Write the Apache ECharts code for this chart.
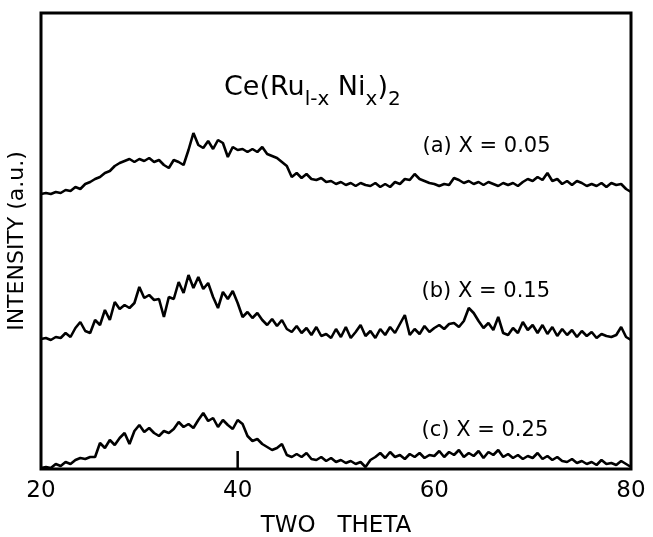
<!DOCTYPE html>
<html><head><meta charset="utf-8">
<script src="https://cdn.jsdelivr.net/npm/echarts@6/dist/echarts.min.js"></script>
<style>html,body{margin:0;padding:0;background:#fff}#c{width:653px;height:537px}</style>
</head><body><div id="c"></div>
<script>
// two-theta grid (degrees), 0.5 deg steps
var thetaStart = 20, thetaStep = 0.5;
// intensities (a.u., already stacked with vertical offsets as in the figure)
var seriesA = [275,276,275,277,276,279,278,282,280,285,287,290,292,296,298,303,306,308,310,307,310,308,311,307,309,304,301,309,307,304,319,336,324,321,328,320,329,326,312,322,319,320,317,320,317,322,315,313,311,307,303,292,296,291,295,290,289,291,287,288,285,287,284,286,283,286,284,283,286,282,285,282,287,285,290,289,295,290,288,286,285,283,285,284,291,289,286,288,285,287,284,287,285,283,286,284,286,283,287,290,288,292,289,296,288,290,285,288,284,288,286,283,285,283,286,282,286,284,285,280,277];
var seriesB = [130,131,129,132,131,136,132,141,147,138,136,149,144,159,149,167,160,164,161,166,182,171,174,169,170,152,172,170,187,176,194,181,192,180,186,172,161,177,170,178,166,152,157,151,156,149,144,150,143,149,140,137,143,136,141,134,142,133,135,131,140,132,142,131,137,144,133,138,131,140,134,142,136,145,154,134,140,135,143,137,141,144,140,145,146,142,148,161,156,148,141,146,139,152,136,134,141,136,147,139,144,136,144,135,142,133,140,134,139,132,138,133,137,131,135,133,132,134,142,132,129];
var seriesC = [1,2,1,5,3,7,5,9,11,10,12,12,26,21,29,24,31,36,25,38,44,37,41,36,33,38,36,40,47,42,45,41,49,56,48,51,42,49,44,40,49,45,33,28,30,25,22,19,21,25,14,12,15,12,16,10,9,12,8,11,7,9,6,8,5,7,2,9,12,16,11,17,12,14,10,15,12,16,11,14,13,18,12,17,14,19,12,16,13,18,11,17,14,19,12,15,11,14,10,13,11,16,10,13,9,12,8,7,10,6,8,5,7,4,9,5,6,4,8,5,2];
// reference marker line at 40 deg
var markerTheta = [40, 40];
var markerHeight = [0, 18];
var seriesLabels = ['(a) X = 0.05', '(b) X = 0.15', '(c) X = 0.25'];
var labelTheta = [58.8, 58.7, 58.7];
var labelLevel = [322, 177, 38];
var xTicks = [20, 40, 60, 80];

function pairs(arr){ return arr.map(function(v,i){ return [thetaStart + i*thetaStep, v]; }); }

var chart = echarts.init(document.getElementById('c'), null, {renderer:'canvas'});
var font = 'DejaVu Sans';
var lineStyle = {color:'#000', width:2.6};
var series = [
  {type:'line', data:pairs(seriesA), showSymbol:false, lineStyle:lineStyle, silent:true, animation:false},
  {type:'line', data:pairs(seriesB), showSymbol:false, lineStyle:lineStyle, silent:true, animation:false},
  {type:'line', data:pairs(seriesC), showSymbol:false, lineStyle:lineStyle, silent:true, animation:false},
  {type:'line', data:markerTheta.map(function(t,i){return [t, markerHeight[i]];}), showSymbol:false, lineStyle:{color:'#000', width:2.5}, silent:true, animation:false},
  {type:'scatter', symbolSize:0, silent:true, animation:false, itemStyle:{opacity:0},
   data: seriesLabels.map(function(s,i){ return {value:[labelTheta[i], labelLevel[i]], name:s}; }),
   label:{show:true, position:'right', distance:0, formatter:function(p){return p.name;}, color:'#000', opacity:1, fontSize:21, fontFamily:font}}
];
chart.setOption({
  animation:false,
  grid:{left:41, right:22, top:13, bottom:68, show:true, borderColor:'#000', borderWidth:3, backgroundColor:'#fff', containLabel:false, outerBoundsMode:'none'},
  xAxis:{type:'value', min:20, max:80, interval:20,
    axisLine:{show:false}, axisTick:{show:false}, splitLine:{show:false},
    axisLabel:{color:'#000', fontSize:23, fontFamily:font, margin:11},
    name:'TWO   THETA', nameLocation:'middle', nameGap:46,
    nameTextStyle:{color:'#000', fontSize:23, fontFamily:font}},
  yAxis:{type:'value', min:0, max:456,
    axisLine:{show:false}, axisTick:{show:false}, splitLine:{show:false}, axisLabel:{show:false},
    name:'INTENSITY (a.u.)', nameLocation:'middle', nameGap:13, nameRotate:90,
    nameTextStyle:{color:'#000', fontSize:22, fontFamily:font}},
  graphic:[{type:'text', left:224, top:74, style:{
    text:'{n|Ce(Ru}{s|l-x}{n| Ni}{s|x}{n|)}{s|2}',
    rich:{n:{fontSize:27, fontFamily:font, fill:'#000', verticalAlign:'bottom'},
          s:{fontSize:20, fontFamily:font, fill:'#000', verticalAlign:'bottom', padding:[0,0,-9,0]}},
    fill:'#000'}}],
  series:series
});
</script></body></html>
